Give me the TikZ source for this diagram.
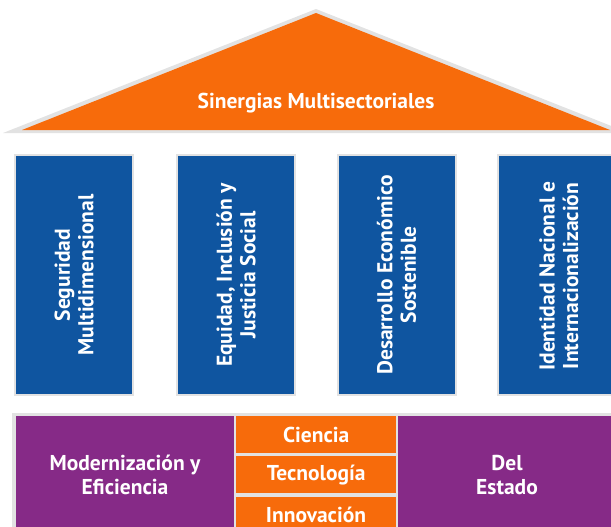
\documentclass[tikz,border=0pt]{standalone}
\usepackage{fontspec}
\setmainfont{PT Sans}
\definecolor{orng}{HTML}{F76B0B}
\definecolor{blu}{HTML}{0F55A0}
\definecolor{purp}{HTML}{862A87}
\definecolor{edge}{HTML}{E2E2E2}
\tikzset{
  lbl/.style={text=white, font=\bfseries\fontsize{21.5}{23.5}\selectfont, align=center, inner sep=0pt},
  pillar/.style={fill=blu, draw=edge, line width=2pt, minimum width=118pt, minimum height=240pt, inner sep=0pt},
  purpbox/.style={fill=purp, inner sep=0pt},
  orbox/.style={fill=orng, inner sep=0pt, minimum width=160pt, minimum height=37pt},
}
\begin{document}
\begin{tikzpicture}[x=1pt,y=-1pt]
\useasboundingbox (0,0) rectangle (611,527);
\clip (0,0) rectangle (611,527);
% roof
\fill[edge] (316,9) -- (3,133) -- (629,133) -- cycle;
\fill[orng] (316,13) -- (22,130) -- (610,130) -- cycle;
\node[lbl] (roof) at (316,103) {Sinergias Multisectoriales};
% pillars
\node[pillar] (p1) at (74,275) {};
\node[pillar] (p2) at (236,275) {};
\node[pillar] (p3) at (396.5,275) {};
\node[pillar] (p4) at (557,275) {};
\node[lbl, rotate=90] (t1) at (p1) {Seguridad\\Multidimensional};
\node[lbl, rotate=90] (t2) at (p2) {Equidad, Inclusión y\\Justicia Social};
\node[lbl, rotate=90] (t3) at (p3) {Desarrollo Económico\\Sostenible};
\node[lbl, rotate=90] (t4) at (559,276) {Identidad Nacional e\\Internacionalización};
% base
\fill[edge] (12,413) rectangle (630,545);
\node[purpbox, minimum width=218pt, minimum height=124pt, anchor=north west] (mod) at (16,416) {};
\node[purpbox, minimum width=222pt, minimum height=124pt, anchor=north west] (est) at (398,416) {};
\node[orbox, anchor=north west] (cie) at (236,416) {};
\node[orbox, anchor=north west] (tec) at (236,456) {};
\node[orbox, anchor=north west] (inn) at (236,497) {};
\node[lbl] (tmod) at (125,475) {Modernización y\\Eficiencia};
\node[lbl] (test) at (507,475) {Del\\Estado};
\node[lbl] (tcie) at (cie) {Ciencia};
\node[lbl] (ttec) at (tec) {Tecnología};
\node[lbl, anchor=base] (tinn) at (316,522) {Innovación};
\end{tikzpicture}
\end{document}
